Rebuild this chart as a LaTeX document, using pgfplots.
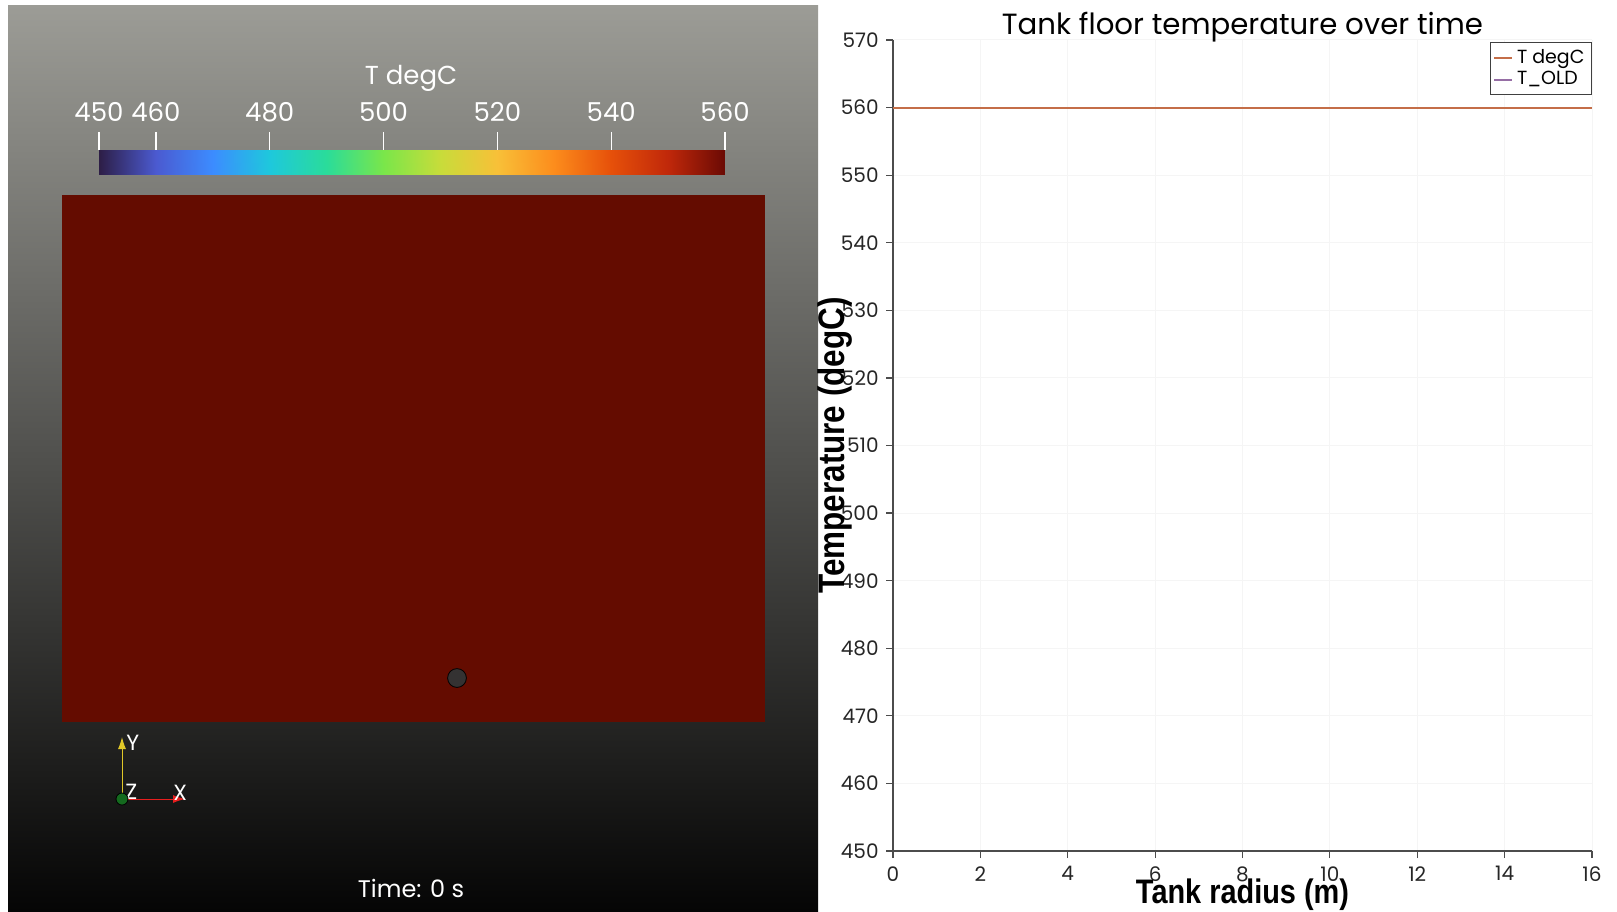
\documentclass[border=0pt]{standalone}
\usepackage{pgfplots}
\pgfplotsset{compat=1.18}
\usepackage{fontspec}
\setmainfont{Poppins}
\newfontfamily\labfont[FakeStretch=0.85]{Liberation Sans}
\usetikzlibrary{arrows.meta}
\definecolor{bgtop}{RGB}{156,156,150}
\definecolor{bgbot}{RGB}{5,5,5}
\definecolor{tank}{RGB}{100,12,0}
\definecolor{dotgray}{RGB}{52,50,50}
\definecolor{lineT}{RGB}{196,110,72}
\definecolor{lineOld}{RGB}{150,110,165}
\definecolor{triY}{RGB}{225,200,40}
\definecolor{triX}{RGB}{230,30,30}
\definecolor{triZ}{RGB}{20,105,30}
\pgfplotsset{colormap={pvturbo}{rgb255=(45,30,70) rgb255=(75,90,208) rgb255=(60,140,255) rgb255=(30,200,220) rgb255=(42,220,154) rgb255=(122,230,74) rgb255=(200,220,58) rgb255=(248,192,56) rgb255=(252,140,28) rgb255=(230,80,10) rgb255=(192,40,10) rgb255=(106,10,4)}}
\begin{document}
\begin{tikzpicture}
\useasboundingbox (0,0) rectangle (808.5pt,455.5pt);
\fill[white] (0,0) rectangle (808.5pt,455.5pt);
% ---------- left render panel (pixel canvas) ----------
\begin{axis}[at={(0pt,0pt)}, anchor=south west, scale only axis,
  width=808.5pt, height=455.5pt, xmin=0, xmax=1617, ymin=0, ymax=911,
  y dir=reverse, hide axis, clip=false]
\shade[top color=bgtop, bottom color=bgbot] (axis cs:8,5) rectangle (axis cs:818,911);
\addplot[fill=tank, draw=none] coordinates {(62,195) (765,195) (765,722) (62,722)} -- cycle;
\addplot[only marks, mark=*, mark size=4.7pt, mark options={fill=dotgray, draw=none}] coordinates {(457,678)};
\addplot[triY, line width=0.5pt, -{Latex[length=6pt,width=4pt]}] coordinates {(122,799) (122,737)};
\addplot[triX, line width=0.5pt, -{Latex[length=6pt,width=4pt]}] coordinates {(122,799) (185,799)};
\addplot[only marks, mark=*, mark size=3pt, mark options={fill=triZ, draw=none}] coordinates {(122,799)};
\node[white, anchor=west, inner sep=0pt, font=\fontsize{11}{12}\selectfont] at (axis cs:126,743) {Y};
\node[white, anchor=west, inner sep=0pt, font=\fontsize{11}{12}\selectfont] at (axis cs:125,792) {Z};
\node[white, anchor=west, inner sep=0pt, font=\fontsize{11}{12}\selectfont] at (axis cs:173,793) {X};
\node[white, font=\fontsize{12}{14}\selectfont] at (axis cs:411,888) {Time: 0 s};
\node[white, font=\fontsize{13}{15}\selectfont] at (axis cs:411,78) {T degC};
\end{axis}
% ---------- colour bar ----------
\begin{axis}[at={(49.5pt,368pt)}, anchor=south west, scale only axis,
  width=313pt, height=12.5pt, xmin=450, xmax=560, ymin=0, ymax=1,
  colormap name=pvturbo, point meta min=450, point meta max=560,
  axis x line*=top, axis y line=none, x axis line style={draw=none},
  xtick={450,460,480,500,520,540,560}, tick align=outside,
  major tick length=9pt, tick style={white, line width=0.6pt},
  xticklabel style={white, font=\fontsize{13}{15}\selectfont, inner sep=0pt, yshift=5pt},
  /pgf/number format/assume math mode=true, clip=false]
\addplot[surf, shader=interp, point meta=x, mesh/rows=2] coordinates {(450,0) (560,0) (450,1) (560,1)};
\end{axis}
% ---------- line chart ----------
\begin{axis}[at={(446.5pt,30pt)}, anchor=south west, scale only axis,
  width=349.5pt, height=405.5pt, xmin=0, xmax=16, ymin=450, ymax=570,
  axis lines*=left, axis line style={black!70, line width=0.6pt},
  xtick={0,2,...,16}, ytick={450,460,...,570}, tick align=outside,
  major tick length=3.5pt, tick style={black!70, line width=0.6pt},
  grid=major, grid style={black!4, line width=0.5pt},
  ticklabel style={font=\fontsize{10}{12}\selectfont, black!85},
  yticklabel style={inner sep=1pt, xshift=-2.5pt},
  xticklabel style={inner sep=0pt, yshift=-4pt},
  /pgf/number format/assume math mode=true,
  every axis title shift=0pt,
  title={Tank floor temperature over time},
  title style={at={(rel axis cs:0.5,1)}, anchor=center, yshift=6.5pt, font=\fontsize{14.6}{17}\selectfont},
  xlabel={Tank radius (m)},
  xlabel style={at={(rel axis cs:0.5,0)}, anchor=center, inner sep=0pt, yshift=-22pt, font=\labfont\bfseries\fontsize{17}{19}\selectfont},
  ylabel={Temperature (degC)},
  ylabel style={at={(rel axis cs:0,0.5)}, anchor=center, yshift=29pt, font=\labfont\bfseries\fontsize{18.5}{20}\selectfont},
  reverse legend,
  legend style={at={(1,1)}, anchor=north east, yshift=-1pt, draw=black!75, line width=0.5pt,
    font=\fontsize{9.5}{11}\selectfont, inner sep=1.5pt, row sep=-1.5pt, legend cell align=left},
  legend image code/.code={\draw[#1, line width=0.8pt] (0pt,0pt) -- (9pt,0pt);}]
\addplot[lineOld, line width=1pt] coordinates {(0,560) (16,560)};
\addlegendentry{T\_OLD}
\addplot[lineT, line width=1pt] coordinates {(0,560) (16,560)};
\addlegendentry{T degC}
\end{axis}
\end{tikzpicture}
\end{document}
